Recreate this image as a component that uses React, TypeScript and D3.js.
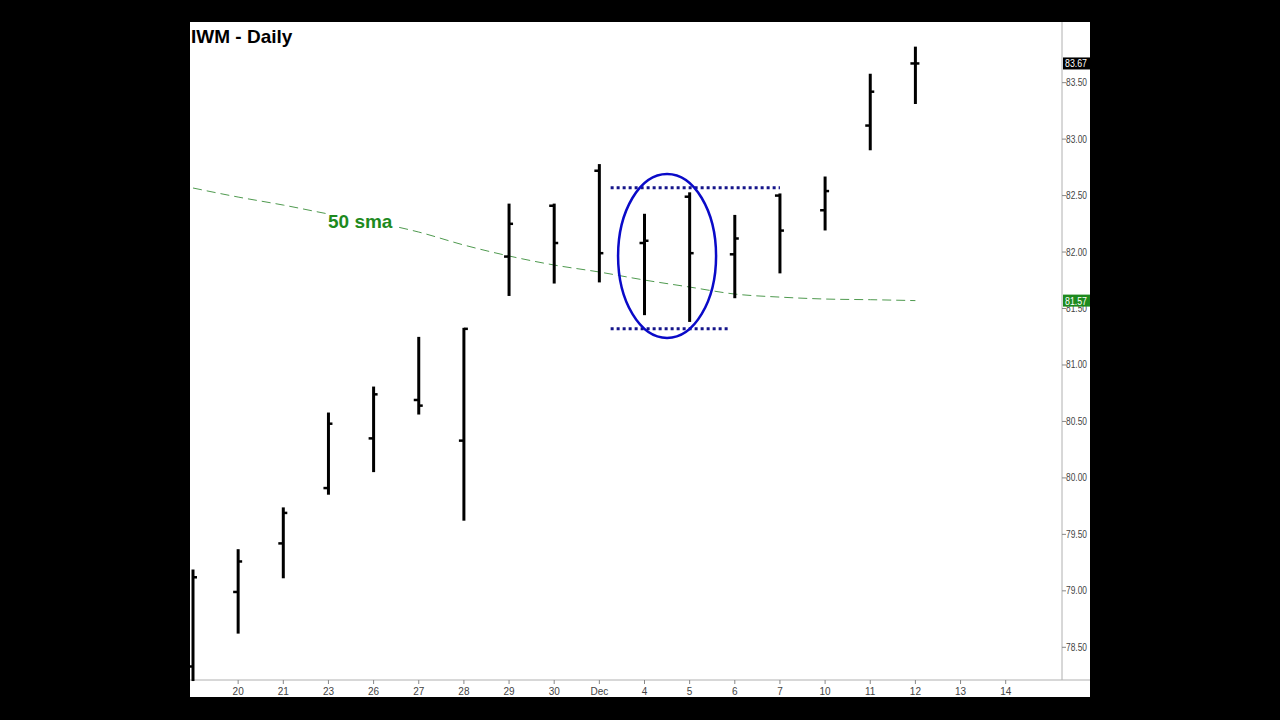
import React from "react";
import * as d3 from "d3";

const dates = ["19", "20", "21", "23", "26", "27", "28", "29", "30", "Dec", "4", "5", "6", "7", "10", "11", "12", "13", "14"];
const opens = [78.33, 78.99, 79.42, 79.91, 80.35, 80.69, 80.33, 81.96, 82.41, 82.72, 82.08, 82.49, 81.98, 82.5, 82.37, 83.12, 83.67];
const highs = [79.18, 79.36, 79.73, 80.57, 80.8, 81.24, 81.32, 82.42, 82.42, 82.77, 82.33, 82.52, 82.32, 82.51, 82.66, 83.57, 83.81];
const lows = [78.21, 78.63, 79.12, 79.86, 80.06, 80.57, 79.63, 81.62, 81.73, 81.74, 81.45, 81.39, 81.6, 81.82, 82.2, 82.91, 83.32];
const closes = [79.12, 79.26, 79.69, 80.48, 80.74, 80.64, 81.32, 82.25, 82.08, 81.99, 82.1, 81.99, 82.12, 82.19, 82.54, 83.42, 83.67];
const sma50 = [82.567, 82.487, 82.416, 82.337, 82.266, 82.177, 82.062, 81.965, 81.885, 81.823, 81.752, 81.69, 81.628, 81.601, 81.584, 81.578, 81.57];
const priceTicks = [78.5, 79.0, 79.5, 80.0, 80.5, 81.0, 81.5, 82.0, 82.5, 83.0, 83.5];
const rangeTop = 82.57;
const rangeBottom = 81.32;
const rangeTopSpan = [9.25, 13.0];
const rangeBottomSpan = [9.25, 11.85];

export default function App() {
  const x = d3.scaleLinear().domain([0, 18]).range([193, 1005.7]);
  const y = d3.scaleLinear().domain([78.5, 83.5]).range([647.3, 82.65]);
  const font = "Arial, 'Liberation Sans', sans-serif";
  const smaLine = d3
    .line<number>()
    .x((_, i) => x(i))
    .y((d) => y(d))
    .curve(d3.curveMonotoneX);
  const lastClose = closes[closes.length - 1];
  const lastSma = sma50[sma50.length - 1];
  const ecx = (x(10) + x(11)) / 2;
  const ecy = y((rangeTop + rangeBottom) / 2 + 0.02);
  return (
    <svg width={1280} height={720} style={{ position: "absolute", left: 0, top: 0 }}>
      <rect x={0} y={0} width={1280} height={720} fill="#000" />
      <rect x={190} y={22} width={900} height={675} fill="#fff" />
      <line x1={1062} x2={1062} y1={22} y2={680} stroke="#b0b0b0" strokeWidth={1} />
      <line x1={190} x2={1090} y1={680} y2={680} stroke="#b0b0b0" strokeWidth={1} />
      {priceTicks.map((p) => (
        <g key={p}>
          <line x1={1062} x2={1066} y1={y(p)} y2={y(p)} stroke="#888" />
          <text x={1066} y={y(p) + 3.5} fontSize={10} fontFamily={font} fill="#444" textLength={21} lengthAdjust="spacingAndGlyphs">
            {p.toFixed(2)}
          </text>
        </g>
      ))}
      {dates.map((d, i) =>
        i === 0 ? null : (
          <g key={d + i}>
            <line x1={x(i)} x2={x(i)} y1={680} y2={684} stroke="#888" />
            <text x={x(i)} y={695} fontSize={10} fontFamily={font} fill="#444" textAnchor="middle">
              {d}
            </text>
          </g>
        )
      )}
      <path d={smaLine(sma50) || ""} fill="none" stroke="#4f9a4f" strokeWidth={1} strokeDasharray="9,5" />
      <rect x={326} y={207} width={70} height={27} fill="#fff" />
      <text x={328} y={228} fontSize={19} fontWeight="bold" fontFamily={font} fill="#1e8a1e">
        50 sma
      </text>
      {opens.map((o, i) => {
        const cx = x(i);
        return (
          <g key={i} stroke="#000" strokeWidth={3}>
            <line x1={cx} x2={cx} y1={y(highs[i]) - 1} y2={y(lows[i]) + 1} />
            <line x1={cx - 5} x2={cx} y1={y(o)} y2={y(o)} strokeWidth={2.5} />
            <line x1={cx} x2={cx + 4} y1={y(closes[i])} y2={y(closes[i])} strokeWidth={2.5} />
          </g>
        );
      })}
      <line x1={x(rangeTopSpan[0])} x2={x(rangeTopSpan[1])} y1={y(rangeTop)} y2={y(rangeTop)} stroke="#15158a" strokeWidth={3} strokeDasharray="3,3" />
      <line x1={x(rangeBottomSpan[0])} x2={x(rangeBottomSpan[1])} y1={y(rangeBottom)} y2={y(rangeBottom)} stroke="#15158a" strokeWidth={3} strokeDasharray="3,3" />
      <ellipse cx={ecx} cy={ecy} rx={49} ry={82} fill="none" stroke="#0a0ac8" strokeWidth={2.5} />
      <rect x={1063} y={y(lastClose) - 6} width={27} height={12} fill="#000" />
      <text x={1065} y={y(lastClose) + 4} fontSize={10} fontFamily={font} fill="#fff" textLength={22} lengthAdjust="spacingAndGlyphs">
        {lastClose.toFixed(2)}
      </text>
      <rect x={1063} y={y(lastSma) - 6} width={27} height={12} fill="#1e8a1e" />
      <text x={1065} y={y(lastSma) + 4} fontSize={10} fontFamily={font} fill="#fff" textLength={22} lengthAdjust="spacingAndGlyphs">
        {lastSma.toFixed(2)}
      </text>
      <text x={191} y={43} fontSize={19} fontWeight="bold" fontFamily={font} fill="#000">
        IWM - Daily
      </text>
    </svg>
  );
}
